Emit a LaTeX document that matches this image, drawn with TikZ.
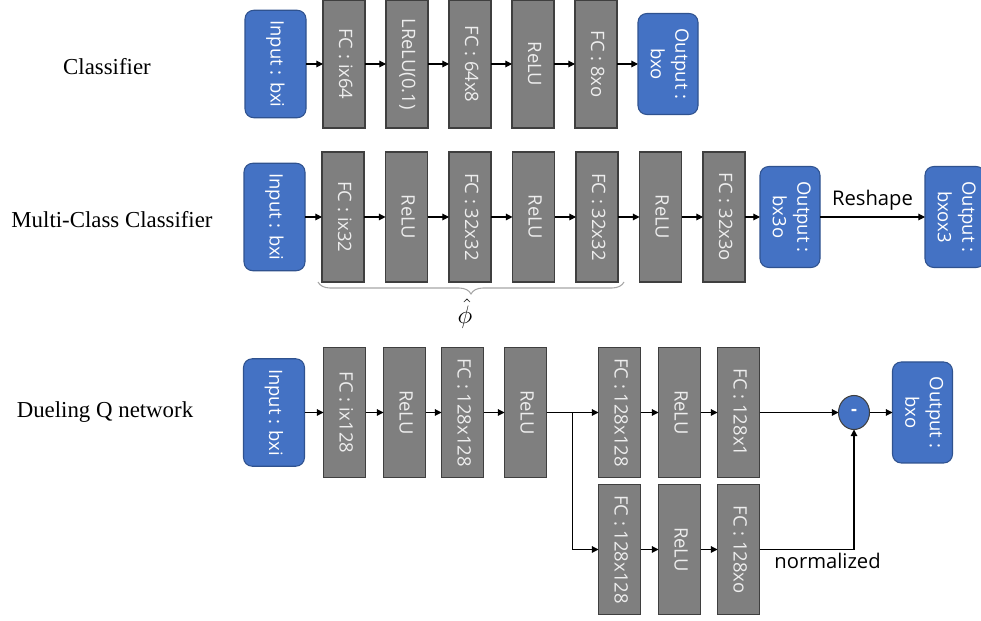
\documentclass[tikz,border=0pt]{standalone}
\usepackage{fontspec}
\setmainfont{Liberation Serif}
\newfontfamily\boxfont{Open Sans}
\usetikzlibrary{arrows.meta,positioning,calc,shapes.geometric,decorations.pathreplacing}
\definecolor{nnBlue}{HTML}{4472C4}
\definecolor{nnBlueEdge}{HTML}{2F528F}
\definecolor{nnGray}{HTML}{7F7F7F}
\definecolor{nnGrayEdge}{HTML}{3F3F3F}
\definecolor{nnText}{HTML}{EDEDED}
\definecolor{nnBrace}{HTML}{A6A6A6}
\newcommand{\vlabel}[1]{\rotatebox{-90}{\begin{tabular}{@{}c@{}}#1\end{tabular}}}
\tikzset{
  % Blue input box
  inbox/.style={rectangle,rounded corners=5pt,
    minimum width=1.22cm,minimum height=2.15cm,inner sep=0pt,outer sep=0pt,
    draw=nnBlueEdge,fill=nnBlue,line width=0.6pt,
    font=\boxfont\fontsize{10.5}{14}\selectfont,text=white},
  % Blue output box
  outbox/.style={inbox,minimum width=1.2cm,minimum height=2.02cm},
  % Gray layer box
  layer/.style={rectangle,minimum width=0.84cm,minimum height=2.6cm,
    inner sep=0pt,outer sep=0pt,draw=nnGrayEdge,fill=nnGray,line width=0.6pt,
    font=\boxfont\fontsize{10.5}{14}\selectfont,text=nnText},
  % Subtraction node
  opnode/.style={ellipse,minimum width=0.62cm,minimum height=0.68cm,
    inner sep=0pt,outer sep=0pt,draw=nnGrayEdge,fill=nnBlue,line width=0.6pt,
    font=\boxfont\bfseries\fontsize{10.5}{14}\selectfont,text=white},
  % Arrows
  arr/.style={-{Triangle[length=3.8pt,width=3.8pt]},line width=0.6pt,black},
  lbl/.style={font=\boxfont\fontsize{11.5}{14}\selectfont,text=black},
  rowlbl/.style={font=\fontsize{13}{15}\selectfont,text=black},
}
\begin{document}
\begin{tikzpicture}[node distance=0.42cm]
  \useasboundingbox (0,0) rectangle (19.62,-12.42);

  % Classifier
  \node[rowlbl] (c_lbl) at (2.14,-1.34) {Classifier};
  \node[inbox] (c_in) at (5.51,-1.28) {\vlabel{Input : bxi}};
  \node[layer,minimum height=2.56cm,right=0.34cm of c_in] (c_fc1) {\vlabel{FC : ix64}};
  \node[layer,minimum height=2.56cm,right=of c_fc1] (c_lr) {\vlabel{LReLU(0.1)}};
  \node[layer,minimum height=2.56cm,right=of c_lr] (c_fc2) {\vlabel{FC : 64x8}};
  \node[layer,minimum height=2.56cm,right=of c_fc2] (c_r) {\vlabel{ReLU}};
  \node[layer,minimum height=2.56cm,right=of c_r] (c_fc3) {\vlabel{FC : 8xo}};
  \node[outbox,right=of c_fc3] (c_out) {\vlabel{Output :\\bxo}};

  \draw[arr] (c_in) -- (c_fc1);
  \draw[arr] (c_fc1) -- (c_lr);
  \draw[arr] (c_lr) -- (c_fc2);
  \draw[arr] (c_fc2) -- (c_r);
  \draw[arr] (c_r) -- (c_fc3);
  \draw[arr] (c_fc3) -- (c_out);

  % Multi-Class Classifier
  \node[rowlbl] (m_lbl) at (2.24,-4.40) {Multi-Class Classifier};
  \node[inbox] (m_in) at (5.49,-4.34) {\vlabel{Input : bxi}};
  \node[layer,right=0.34cm of m_in] (m_fc1) {\vlabel{FC : ix32}};
  \node[layer,right=0.43cm of m_fc1] (m_r1) {\vlabel{ReLU}};
  \node[layer,right=0.43cm of m_r1] (m_fc2) {\vlabel{FC : 32x32}};
  \node[layer,right=0.43cm of m_fc2] (m_r2) {\vlabel{ReLU}};
  \node[layer,right=0.43cm of m_r2] (m_fc3) {\vlabel{FC : 32x32}};
  \node[layer,right=0.43cm of m_fc3] (m_r3) {\vlabel{ReLU}};
  \node[layer,right=0.43cm of m_r3] (m_fc4) {\vlabel{FC : 32x3o}};
  \node[outbox,right=0.3cm of m_fc4] (m_out) {\vlabel{Output :\\bx3o}};
  \node[outbox,right=2.1cm of m_out] (m_res) {\vlabel{Output :\\bxox3}};

  \draw[arr] (m_in) -- (m_fc1);
  \draw[arr] (m_fc1) -- (m_r1);
  \draw[arr] (m_r1) -- (m_fc2);
  \draw[arr] (m_fc2) -- (m_r2);
  \draw[arr] (m_r2) -- (m_fc3);
  \draw[arr] (m_fc3) -- (m_r3);
  \draw[arr] (m_r3) -- (m_fc4);
  \draw[arr] (m_fc4) -- (m_out);
  \draw[arr] (m_out) -- node[lbl,above] {Reshape} (m_res);

  \draw[nnBrace,line width=0.6pt,decorate,decoration={brace,mirror,amplitude=0.24cm}]
    ([xshift=-0.08cm]m_fc1.south west) -- ([xshift=0.12cm]m_fc3.south east);
  \node[font=\fontsize{14}{16}\selectfont] (m_phi)
    at ($([xshift=-0.08cm]m_fc1.south west)!0.48!([xshift=0.12cm]m_fc3.south east)+(0,-0.64)$)
    {$\hat{\phi}$};

  % Dueling Q network
  \node[rowlbl] (q_lbl) at (2.10,-8.24) {Dueling Q network};
  \node[inbox] (q_in) at (5.48,-8.25) {\vlabel{Input : bxi}};
  \node[layer,right=0.38cm of q_in] (q_fc1) {\vlabel{FC : ix128}};
  \node[layer,right=0.36cm of q_fc1] (q_r1) {\vlabel{ReLU}};
  \node[layer,right=0.32cm of q_r1] (q_fc2) {\vlabel{FC : 128x128}};
  \node[layer,right=0.42cm of q_fc2] (q_r2) {\vlabel{ReLU}};
  \node[layer,right=1.04cm of q_r2] (q_ua) {\vlabel{FC : 128x128}};
  \node[layer,right=0.36cm of q_ua] (q_ub) {\vlabel{ReLU}};
  \node[layer,right=0.34cm of q_ub] (q_uc) {\vlabel{FC : 128x1}};
  \node[layer,below=0.14cm of q_ua] (q_la) {\vlabel{FC : 128x128}};
  \node[layer,below=0.14cm of q_ub] (q_lb) {\vlabel{ReLU}};
  \node[layer,below=0.14cm of q_uc] (q_lc) {\vlabel{FC : 128xo}};
  \node[opnode,right=1.58cm of q_uc] (q_op) {-};
  \node[outbox,right=0.46cm of q_op] (q_out) {\vlabel{Output :\\bxo}};
  \coordinate (q_split) at ($(q_r2.east)+(0.52,0)$);

  \draw[arr] (q_in) -- (q_fc1);
  \draw[arr] (q_fc1) -- (q_r1);
  \draw[arr] (q_r1) -- (q_fc2);
  \draw[arr] (q_fc2) -- (q_r2);
  \draw[arr] (q_r2) -- (q_ua);
  \draw[arr] (q_split) |- (q_la);
  \draw[arr] (q_ua) -- (q_ub);
  \draw[arr] (q_ub) -- (q_uc);
  \draw[arr] (q_la) -- (q_lb);
  \draw[arr] (q_lb) -- (q_lc);
  \draw[arr] (q_uc) -- (q_op);
  \draw[arr] (q_lc.east) -| node[lbl,pos=0.36,below,inner sep=1.5pt] {normalized} (q_op.south);
  \draw[arr] (q_op) -- (q_out);
\end{tikzpicture}
\end{document}
